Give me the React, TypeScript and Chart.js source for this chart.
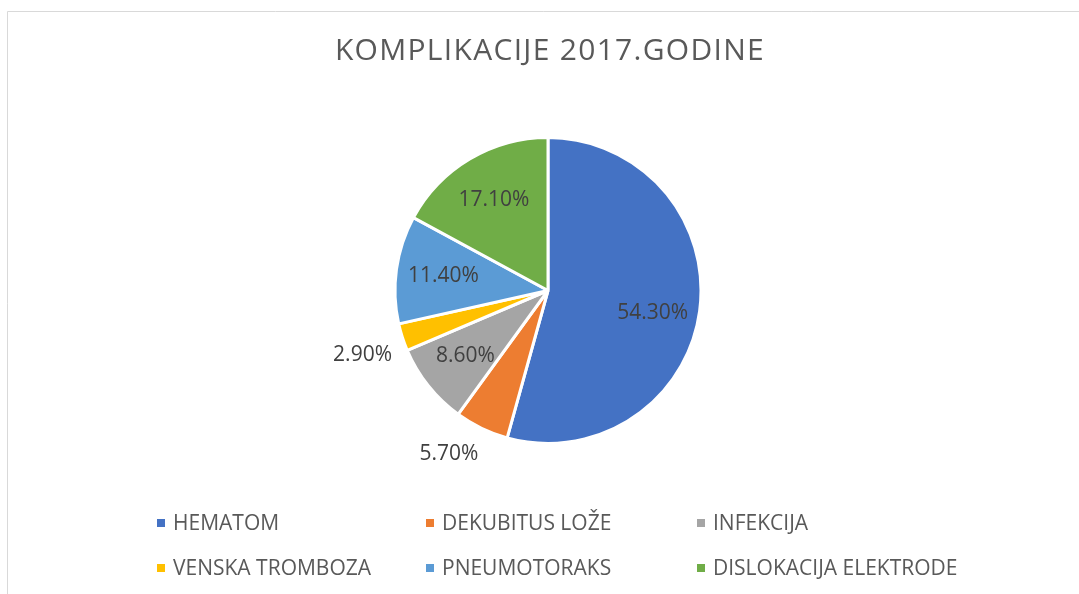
import React, { useEffect, useRef } from "react";
import { Chart, registerables } from "chart.js";

Chart.register(...registerables);

const TITLE = "KOMPLIKACIJE 2017.GODINE";
const categories = [
  "HEMATOM",
  "DEKUBITUS LOŽE",
  "INFEKCIJA",
  "VENSKA TROMBOZA",
  "PNEUMOTORAKS",
  "DISLOKACIJA ELEKTRODE",
];
const values = [54.3, 5.7, 8.6, 2.9, 11.4, 17.1];
const colors = ["#4472C4", "#ED7D31", "#A5A5A5", "#FFC000", "#5B9BD5", "#70AD47"];

const FONT = "'Open Sans', 'Noto Sans', sans-serif";

const decorPlugin = {
  id: "decor",
  beforeDraw(chart: any) {
    const ctx = chart.ctx;
    ctx.save();
    ctx.fillStyle = "#ffffff";
    ctx.fillRect(0, 0, chart.width, chart.height);
    ctx.strokeStyle = "#D9D9D9";
    ctx.lineWidth = 1;
    ctx.beginPath();
    ctx.moveTo(7.5, chart.height + 5);
    ctx.lineTo(7.5, 11.5);
    ctx.lineTo(chart.width + 5, 11.5);
    ctx.stroke();
    // title
    ctx.fillStyle = "#595959";
    ctx.font = `30px ${FONT}`;
    (ctx as any).letterSpacing = "1.3px";
    ctx.textAlign = "center";
    ctx.textBaseline = "middle";
    ctx.fillText(TITLE, 550, 51);
    (ctx as any).letterSpacing = "0px";
    ctx.restore();
  },
  afterDraw(chart: any) {
    const ctx = chart.ctx;
    const meta = chart.getDatasetMeta(0);
    ctx.save();
    ctx.font = `21px ${FONT}`;
    ctx.fillStyle = "#404040";
    meta.data.forEach((arc: any, i: number) => {
      const { x, y, startAngle, endAngle, outerRadius } = arc.getProps(
        ["x", "y", "startAngle", "endAngle", "outerRadius"],
        true
      );
      const mid = (startAngle + endAngle) / 2;
      const cx = Math.cos(mid);
      const cy = Math.sin(mid);
      const text = values[i].toFixed(2) + "%";
      if (values[i] < 6) {
        const d = outerRadius + 14;
        const px = x + cx * d;
        const py = y + cy * d;
        ctx.textAlign = cx < 0 ? "right" : "left";
        ctx.textBaseline = cy > 0 ? "top" : "bottom";
        ctx.fillText(text, px + (cx < 0 ? 3 : -3), py + (cy > 0 ? 3 : -3));
      } else {
        const d = outerRadius * 0.69;
        ctx.textAlign = "center";
        ctx.textBaseline = "middle";
        ctx.fillText(text, x + cx * d, y + cy * d + (i === 0 ? 8 : 0));
      }
    });
    // legend
    const colX = [157, 426, 697];
    const rowY = [523, 568];
    ctx.font = `21px ${FONT}`;
    ctx.textAlign = "left";
    ctx.textBaseline = "middle";
    categories.forEach((c, i) => {
      const col = i % 3;
      const row = Math.floor(i / 3);
      const bx = colX[col];
      const by = rowY[row];
      ctx.fillStyle = colors[i];
      ctx.fillRect(bx, by - 4, 8, 8);
      ctx.fillStyle = "#595959";
      ctx.fillText(c, bx + 16, by + 1);
    });
    ctx.restore();
  },
};

export default function App() {
  const ref = useRef<HTMLCanvasElement>(null);
  useEffect(() => {
    document.body.style.margin = "0";
    const chart = new Chart(ref.current!, {
      type: "pie",
      data: {
        labels: categories,
        datasets: [
          {
            data: values,
            backgroundColor: colors,
            borderColor: "#ffffff",
            borderWidth: 3,
          },
        ],
      },
      options: {
        animation: false,
        responsive: false,
        layout: { padding: { top: 136, bottom: 149, left: 200, right: 183 } },
        plugins: {
          legend: { display: false },
          title: { display: false },
          tooltip: { enabled: false },
        },
      },
      plugins: [decorPlugin],
    });
    return () => chart.destroy();
  }, []);
  return (
    <div style={{ position: "absolute", left: 0, top: 0, width: 1079, height: 594 }}>
      <canvas ref={ref} width={1079} height={594} style={{ width: 1079, height: 594 }} />
    </div>
  );
}
